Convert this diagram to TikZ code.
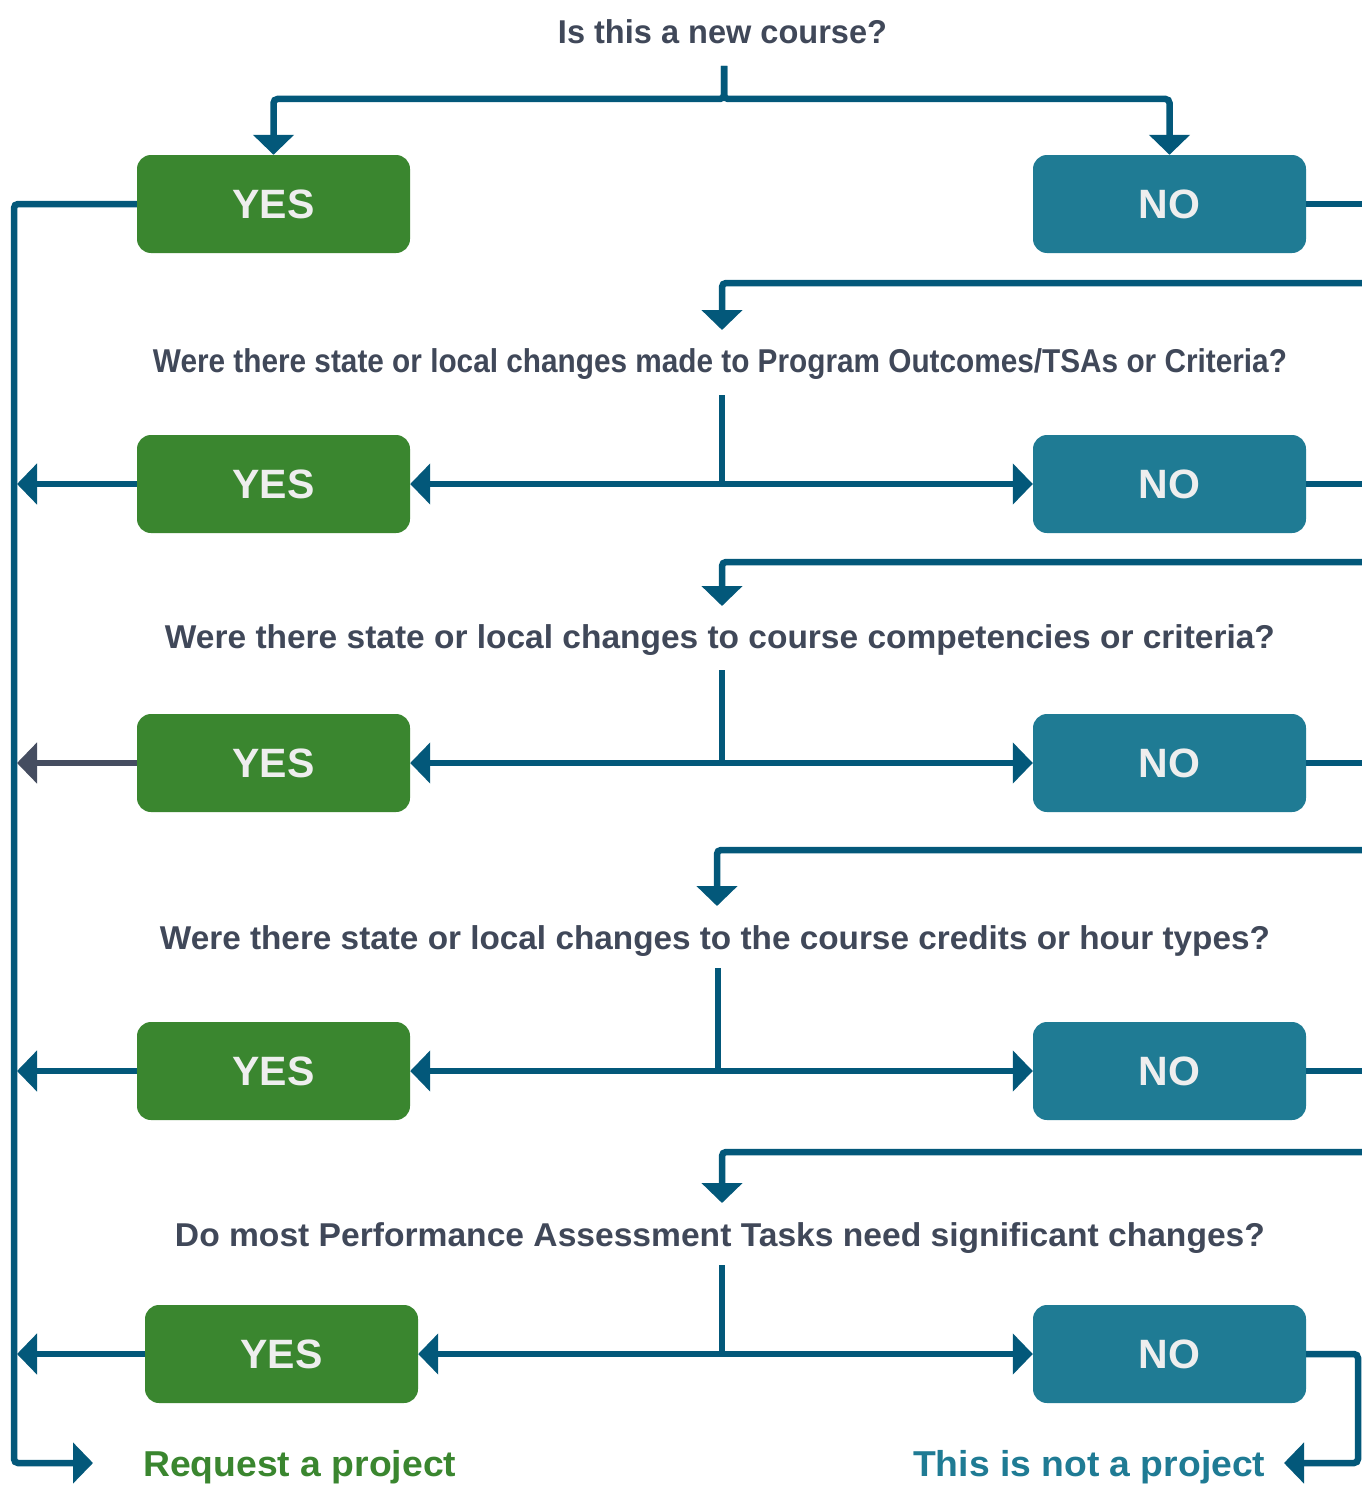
\documentclass[tikz,border=0pt]{standalone}
\usepackage{fontspec}
\setmainfont{Liberation Sans}
\usetikzlibrary{arrows.meta}
\definecolor{lineC}{HTML}{03587A}
\definecolor{grayC}{HTML}{454D60}
\definecolor{yesC}{HTML}{3A862F}
\definecolor{noC}{HTML}{1F7B94}
\definecolor{qC}{HTML}{404859}
\definecolor{boxtxt}{HTML}{EEEEEE}
\newcommand{\fitw}[2]{\resizebox{#1}{\height}{#2}}
\tikzset{
  conn/.style={draw=lineC, line width=6.5pt, rounded corners=4pt},
  tip/.style={conn, -{Triangle[width=40pt,length=20pt]}},
  tips/.style={conn, {Triangle[width=40pt,length=20pt]}-{Triangle[width=40pt,length=20pt]}},
  box/.style={rounded corners=14pt, minimum width=273pt, minimum height=98pt,
    inner sep=0pt, text=boxtxt, font=\bfseries\fontsize{41}{41}\selectfont},
  yesbox/.style={box, fill=yesC},
  nobox/.style={box, fill=noC},
  qtext/.style={anchor=base, inner sep=0pt, text=qC, font=\bfseries\fontsize{33}{33}\selectfont},
  endtext/.style={anchor=base west, inner sep=0pt, font=\bfseries\fontsize{36}{36}\selectfont},
}
\begin{document}
\begin{tikzpicture}[x=1pt,y=-1pt]
\useasboundingbox[fill=white] (0,0) rectangle (1361,1485);

% questions
\node[qtext] (q1) at (722.5,44) {\fitw{329pt}{Is this a new course?}};
\node[qtext] (q2) at (720,372) {\fitw{1134pt}{Were there state or local changes made to Program Outcomes/TSAs or Criteria?}};
\node[qtext] (q3) at (720,648) {\fitw{1110pt}{Were there state or local changes to course competencies or criteria?}};
\node[qtext] (q4) at (715,949) {\fitw{1110pt}{Were there state or local changes to the course credits or hour types?}};
\node[qtext] (q5) at (720,1246) {\fitw{1090pt}{Do most Performance Assessment Tasks need significant changes?}};

% boxes
\node[yesbox] (y1) at (273.5,204) {YES};
\node[nobox]  (n1) at (1169.5,204) {NO};
\node[yesbox] (y2) at (273.5,484) {YES};
\node[nobox]  (n2) at (1169.5,484) {NO};
\node[yesbox] (y3) at (273.5,763) {YES};
\node[nobox]  (n3) at (1169.5,763) {NO};
\node[yesbox] (y4) at (273.5,1071) {YES};
\node[nobox]  (n4) at (1169.5,1071) {NO};
\node[yesbox] (y5) at (281.5,1354) {YES};
\node[nobox]  (n5) at (1169.5,1354) {NO};

% end texts
\node[endtext, text=yesC] (req) at (143,1476) {\fitw{313pt}{Request a project}};
\node[endtext, text=noC] (notp) at (913,1476) {\fitw{352pt}{This is not a project}};

% helper coordinates
\coordinate (q1b) at (724,66);
\coordinate (q2b) at (722,395);
\coordinate (q3b) at (722,670);
\coordinate (q4b) at (718,968);
\coordinate (q5b) at (722,1265);
\coordinate (q2t) at (722,330);
\coordinate (q3t) at (722,606);
\coordinate (q4t) at (717,906);
\coordinate (q5t) at (722,1203);
\coordinate (r1) at (1366,283);
\coordinate (r2) at (1366,562);
\coordinate (r3) at (1366,850);
\coordinate (r4) at (1366,1152);
\coordinate (edge) at (1366,0);
\coordinate (rail) at (17,0);
\coordinate (rb) at (14,1463);
\coordinate (reqa) at (93,1463);
\coordinate (nr) at (1358,1463);
\coordinate (nota) at (1284,1463);

% top split
\draw[tip] (q1b) -- ++(0,33) -| (y1.north);
\draw[tip] (q1b) -- ++(0,33) -| (n1.north);

% left rail
\draw[tip] (y1.west) -| (rb) -- (reqa);

% rows 2-5
\draw[conn] (q2b) -- (q2b |- y2.east);
\draw[tips] (y2.east) -- (n2.west);
\draw[conn] (q3b) -- (q3b |- y3.east);
\draw[tips] (y3.east) -- (n3.west);
\draw[conn] (q4b) -- (q4b |- y4.east);
\draw[tips] (y4.east) -- (n4.west);
\draw[conn] (q5b) -- (q5b |- y5.east);
\draw[tips] (y5.east) -- (n5.west);

% yes to rail
\draw[tip] (y2.west) -- (y2.west -| rail);
\draw[tip, draw=grayC] (y3.west) -- (y3.west -| rail);
\draw[tip] (y4.west) -- (y4.west -| rail);
\draw[tip] (y5.west) -- (y5.west -| rail);

% no to right edge
\draw[conn] (n1.east) -- (n1.east -| edge);
\draw[conn] (n2.east) -- (n2.east -| edge);
\draw[conn] (n3.east) -- (n3.east -| edge);
\draw[conn] (n4.east) -- (n4.east -| edge);

% returns from right edge
\draw[tip] (r1) -| (q2t);
\draw[tip] (r2) -| (q3t);
\draw[tip] (r3) -| (q4t);
\draw[tip] (r4) -| (q5t);

% last no
\draw[tip] (n5.east) -| (nr) -- (nota);
\end{tikzpicture}
\end{document}
